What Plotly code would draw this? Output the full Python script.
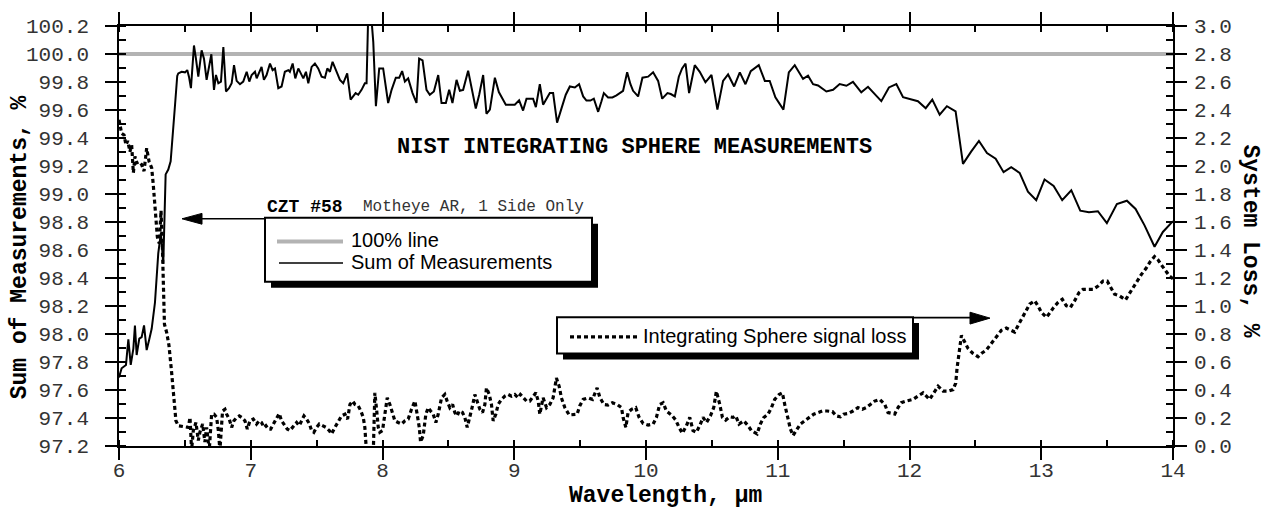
import plotly.graph_objects as go

# ---------------- data ----------------
wavelength_sum = [
    6.000, 6.020, 6.053, 6.071, 6.089, 6.109, 6.121, 6.134, 6.154, 6.172, 6.190, 6.210, 6.228, 6.248,
    6.273, 6.298, 6.318, 6.336, 6.354, 6.374, 6.392, 6.412, 6.425, 6.442,
    6.450, 6.475, 6.501, 6.518, 6.531, 6.546, 6.569, 6.584, 6.602, 6.627, 6.645, 6.665, 6.683, 6.701,
    6.721, 6.736, 6.754, 6.774, 6.792, 6.812, 6.835, 6.855, 6.873, 6.893, 6.918, 6.943, 6.969, 6.989,
    7.007, 7.032, 7.045, 7.065, 7.082, 7.100, 7.120, 7.146, 7.166, 7.184, 7.209, 7.234, 7.259, 7.285,
    7.297, 7.318, 7.338, 7.361, 7.378, 7.399, 7.419, 7.437, 7.462, 7.487, 7.512, 7.538, 7.563, 7.581,
    7.601, 7.621, 7.652, 7.677, 7.702, 7.732, 7.758, 7.778, 7.796, 7.816, 7.841, 7.866, 7.879, 7.892,
    7.912, 7.930, 7.950, 7.975,
    8.005, 8.043, 8.069, 8.101, 8.127, 8.149, 8.170, 8.195, 8.228, 8.258, 8.278, 8.304, 8.334, 8.359,
    8.390, 8.423, 8.448, 8.481, 8.506, 8.531, 8.562, 8.587, 8.612, 8.650, 8.683, 8.708, 8.734, 8.764,
    8.789, 8.815, 8.853, 8.883, 8.911, 8.936, 8.971, 9.004, 9.037, 9.067, 9.093, 9.123, 9.143, 9.164,
    9.194, 9.219, 9.245, 9.270, 9.295, 9.325, 9.358, 9.391, 9.422, 9.460, 9.492, 9.523, 9.548, 9.578,
    9.604, 9.637, 9.662, 9.680, 9.712, 9.745, 9.776, 9.801, 9.826, 9.857, 9.882, 9.902, 9.940, 9.973,
    10.016, 10.054, 10.092, 10.123, 10.163, 10.188, 10.219, 10.249, 10.274, 10.300, 10.327, 10.370,
    10.408, 10.451, 10.497, 10.542, 10.585, 10.623, 10.669, 10.712, 10.755, 10.795, 10.826, 10.856,
    10.902, 10.939, 10.982, 11.015, 11.043, 11.084, 11.129, 11.192, 11.230, 11.268, 11.306, 11.369,
    11.420,
    11.470, 11.521, 11.571, 11.634, 11.685, 11.736, 11.786, 11.844, 11.900, 11.951, 12.001, 12.064,
    12.123, 12.173, 12.229, 12.284, 12.350, 12.406, 12.469, 12.527, 12.588, 12.654, 12.714, 12.772,
    12.836, 12.899, 12.962, 13.025, 13.094, 13.159, 13.228, 13.296, 13.362, 13.430, 13.498, 13.574,
    13.650, 13.716, 13.784, 13.860, 13.923, 13.974, 14.000,
]
sum_measurements = [
    97.69, 97.755, 97.779, 97.962, 97.779, 97.896, 98.061, 97.850, 97.967, 97.978, 98.061, 97.885, 97.955, 98.037,
    98.225, 98.576, 98.72, 98.50, 99.14, 99.175, 99.233, 99.444, 99.632, 99.843,
    99.861, 99.873, 99.869, 99.885, 99.838, 99.756, 100.061, 99.967, 99.838, 100.026, 99.967, 99.815, 99.920, 99.998,
    99.744, 99.850, 99.791, 99.803, 100.049, 99.732, 99.756, 99.791, 99.920, 99.808, 99.784, 99.803, 99.873, 99.803,
    99.850, 99.873, 99.826, 99.873, 99.908, 99.815, 99.850, 99.932, 99.885, 99.897, 99.756, 99.768, 99.873, 99.885,
    99.873, 99.932, 99.826, 99.897, 99.861, 99.826, 99.873, 99.791, 99.908, 99.932, 99.897, 99.838, 99.831, 99.897,
    99.873, 99.944, 99.873, 99.815, 99.791, 99.861, 99.674, 99.697, 99.721, 99.709, 99.744, 99.791, 99.791, 100.30,
    100.30, 100.085, 99.627, 99.897,
    99.897, 99.650, 99.744, 99.831, 99.831, 99.878, 99.803, 99.826, 99.721, 99.650, 99.967, 99.955, 99.744, 99.709,
    99.732, 99.850, 99.650, 99.650, 99.744, 99.650, 99.815, 99.737, 99.744, 99.880, 99.721, 99.610, 99.709, 99.850,
    99.573, 99.603, 99.831, 99.728, 99.681, 99.638, 99.638, 99.638, 99.669, 99.596, 99.681, 99.681, 99.681, 99.620,
    99.784, 99.638, 99.685, 99.721, 99.721, 99.509, 99.610, 99.709, 99.768, 99.761, 99.784, 99.697, 99.667, 99.667,
    99.681, 99.587, 99.662, 99.721, 99.690, 99.690, 99.704, 99.721, 99.737, 99.869, 99.784, 99.737, 99.697, 99.831,
    99.838, 99.869, 99.808, 99.681, 99.721, 99.714, 99.697, 99.838, 99.897, 99.932, 99.721, 99.920,
    99.873, 99.798, 99.850, 99.603, 99.808, 99.854, 99.768, 99.869, 99.784, 99.878, 99.901, 99.920,
    99.808, 99.808, 99.690, 99.638, 99.603, 99.869, 99.920, 99.822, 99.845, 99.784, 99.775, 99.732,
    99.744,
    99.785, 99.773, 99.801, 99.726, 99.766, 99.714, 99.663, 99.761, 99.785, 99.691, 99.679, 99.663,
    99.613, 99.674, 99.566, 99.627, 99.590, 99.215, 99.304, 99.379, 99.292, 99.252, 99.156, 99.191,
    99.151, 99.017, 98.956, 99.104, 99.057, 98.956, 99.027, 98.881, 98.870, 98.877, 98.792, 98.928,
    98.952, 98.893, 98.776, 98.623, 98.729, 98.783, 98.806,
]

wavelength_loss = [
    6.000, 6.020, 6.038, 6.053, 6.066, 6.083, 6.096, 6.109, 6.121, 6.134, 6.154, 6.172, 6.190, 6.210,
    6.228, 6.248, 6.260, 6.273, 6.286, 6.291, 6.306, 6.319, 6.330, 6.336, 6.345, 6.362, 6.379, 6.399,
    6.412, 6.432, 6.450, 6.475, 6.501, 6.526, 6.539, 6.551, 6.564, 6.584, 6.602, 6.614, 6.635, 6.652,
    6.665, 6.685, 6.703, 6.721, 6.741, 6.754, 6.766, 6.786, 6.804, 6.817, 6.837, 6.855, 6.872, 6.893,
    6.913, 6.931, 6.956, 6.974, 6.994, 7.019, 7.044, 7.065, 7.082, 7.100, 7.115, 7.133, 7.151, 7.171,
    7.196, 7.216, 7.234, 7.259, 7.277, 7.297, 7.318, 7.335, 7.348, 7.368, 7.386, 7.404, 7.424, 7.444,
    7.462, 7.479, 7.500, 7.520, 7.545, 7.570, 7.596, 7.613, 7.639, 7.664, 7.689, 7.715, 7.735, 7.753,
    7.773, 7.791, 7.816, 7.836, 7.854, 7.866, 7.879, 7.930, 7.942, 7.955, 7.968, 7.980, 8.000, 8.018,
    8.036, 8.056, 8.069, 8.094, 8.119, 8.145, 8.170, 8.195, 8.220, 8.246, 8.263, 8.279, 8.289, 8.309,
    8.329, 8.347, 8.365, 8.385, 8.405, 8.423, 8.448, 8.473, 8.491, 8.511, 8.532, 8.549, 8.567, 8.582,
    8.607, 8.625, 8.643, 8.663, 8.683, 8.701, 8.719, 8.739, 8.759, 8.777, 8.789, 8.810, 8.827, 8.840,
    8.860, 8.878, 8.903, 8.929, 8.954, 8.979, 9.004, 9.030, 9.047, 9.068, 9.093, 9.118, 9.144, 9.164,
    9.182, 9.194,
    9.219, 9.245, 9.270, 9.295, 9.320, 9.341, 9.358, 9.384, 9.417, 9.447, 9.477, 9.497, 9.523, 9.561,
    9.594, 9.629, 9.649, 9.680, 9.712, 9.745, 9.781, 9.814, 9.826, 9.847, 9.864, 9.890, 9.922, 9.948,
    9.978, 10.016, 10.054, 10.079, 10.104, 10.130, 10.155, 10.193, 10.226, 10.251, 10.276, 10.307,
    10.332, 10.357, 10.383, 10.413, 10.433, 10.459, 10.489, 10.514, 10.534, 10.560, 10.580, 10.605,
    10.636, 10.661, 10.681, 10.706, 10.742, 10.775, 10.800, 10.843, 10.868, 10.894, 10.926, 10.952,
    10.977, 11.010, 11.035, 11.053, 11.078, 11.096, 11.116, 11.146, 11.172, 11.205, 11.243, 11.273,
    11.306, 11.339, 11.374, 11.415, 11.445, 11.475, 11.500, 11.533, 11.571, 11.609, 11.642, 11.672,
    11.703, 11.736,
    11.774, 11.812, 11.837, 11.888, 11.913, 11.938, 11.976, 12.027, 12.065, 12.103, 12.153, 12.179,
    12.217, 12.255, 12.292, 12.330, 12.351, 12.361, 12.376, 12.394, 12.419, 12.444, 12.482, 12.520,
    12.545, 12.583, 12.621, 12.659, 12.697, 12.735, 12.773, 12.798, 12.831, 12.856, 12.882, 12.912,
    12.950, 12.975, 13.001, 13.039, 13.069, 13.094, 13.127, 13.160, 13.190, 13.221, 13.253, 13.286,
    13.317, 13.355, 13.393, 13.431, 13.468, 13.501, 13.532, 13.557, 13.595, 13.640, 13.666, 13.696,
    13.726, 13.759, 13.797, 13.828, 13.860, 13.886, 13.911, 13.944, 13.974, 14.000,
]
signal_loss = [
    2.33, 2.233, 2.221, 2.151, 2.18, 2.103, 2.15, 1.951, 2.068, 2.022, 2.03, 2.010, 1.963, 2.127,
    2.033, 1.987, 1.869, 1.728, 1.611, 1.494, 1.447, 1.681, 1.40, 1.15, 0.87, 0.81, 0.72, 0.53,
    0.39, 0.180, 0.145, 0.140, 0.140, 0.133, 0.204, -0.03, 0.110, 0.168, 0.039, 0.098, 0.157, 0.028,
    0.133, -0.03, 0.227, 0.227, 0.204, 0.110, -0.03, 0.250, 0.262, 0.227, 0.192, 0.133, 0.180, 0.204,
    0.215, 0.204, 0.180, 0.121, 0.180, 0.192, 0.157, 0.180, 0.168, 0.133, 0.145, 0.121, 0.121, 0.157,
    0.204, 0.232, 0.180, 0.145, 0.121, 0.110, 0.133, 0.157, 0.168, 0.145, 0.180, 0.215, 0.192, 0.161,
    0.110, 0.098, 0.133, 0.157, 0.145, 0.133, 0.110, 0.086, 0.133, 0.180, 0.215, 0.227, 0.192, 0.297,
    0.321, 0.297, 0.286, 0.250, 0.204, 0.133, -0.05, -0.05, 0.380, 0.262, 0.133, 0.098, 0.110, 0.227,
    0.344, 0.297, 0.250, 0.180, 0.168, 0.157, 0.180, 0.192, 0.262, 0.321, 0.227, 0.133, 0.028, 0.075,
    0.227, 0.274, 0.250, 0.227, 0.168, 0.227, 0.344, 0.368, 0.321, 0.274, 0.297, 0.239, 0.215, 0.250,
    0.239, 0.204, 0.133, 0.204, 0.286, 0.368, 0.309, 0.262, 0.239, 0.297, 0.415, 0.368, 0.297, 0.180,
    0.227, 0.297, 0.333, 0.356, 0.368, 0.356, 0.368, 0.344, 0.368, 0.344, 0.321, 0.321, 0.356, 0.380,
    0.321, 0.227,
    0.344, 0.274, 0.297, 0.344, 0.485, 0.426, 0.344, 0.274, 0.222, 0.222, 0.227, 0.286, 0.333, 0.344,
    0.333, 0.415, 0.349, 0.297, 0.293, 0.309, 0.297, 0.274, 0.204, 0.133, 0.239, 0.262, 0.274, 0.204,
    0.161, 0.150, 0.157, 0.204, 0.297, 0.309, 0.250, 0.222, 0.185, 0.133, 0.091, 0.145,
    0.204, 0.110, 0.098, 0.157, 0.204, 0.168, 0.215, 0.274, 0.391, 0.297, 0.204, 0.185,
    0.208, 0.204, 0.215, 0.157, 0.180, 0.145, 0.110, 0.086, 0.157, 0.204, 0.227, 0.274,
    0.333, 0.368, 0.380, 0.297, 0.204, 0.121, 0.075, 0.121, 0.157, 0.180, 0.204, 0.227,
    0.239, 0.250, 0.250, 0.246, 0.215, 0.208, 0.227, 0.232, 0.250, 0.274, 0.262, 0.274,
    0.297, 0.321,
    0.333, 0.298, 0.239, 0.228, 0.274, 0.310, 0.321, 0.333, 0.357, 0.380, 0.333, 0.368,
    0.427, 0.392, 0.392, 0.403, 0.450, 0.556, 0.673, 0.790, 0.743, 0.697, 0.661, 0.638,
    0.661, 0.685, 0.732, 0.779, 0.826, 0.842, 0.826, 0.814, 0.873, 0.919, 0.966, 1.013,
    1.037, 1.002, 0.955, 0.919, 0.955, 0.990, 1.025, 1.048, 1.002, 0.990, 1.037, 1.095,
    1.119, 1.119, 1.119, 1.142, 1.177, 1.177, 1.131, 1.084, 1.072, 1.044, 1.084, 1.131,
    1.177, 1.224, 1.271, 1.318, 1.353, 1.330, 1.295, 1.248, 1.213, 1.194,
]

line100_x = [6, 14]
line100_y = [100.0, 100.0]

# ---------------- geometry helpers (pixel -> paper) ----------------
ML, MR, MT, MB = 119, 99, 19, 68
FW, FH = 1272, 514
PW, PH = FW - ML - MR, FH - MT - MB


def px(x):
    return (x - ML) / PW


def py(y):
    return 1 - (y - MT) / PH


MONO = "Liberation Mono, Courier New, monospace"
SANS = "Liberation Sans, Arial, sans-serif"

fig = go.Figure()
fig.add_trace(go.Scatter(x=line100_x, y=line100_y, mode="lines",
                         line=dict(color="#b3b3b3", width=4), name="100% line"))
fig.add_trace(go.Scatter(x=wavelength_sum, y=sum_measurements, mode="lines",
                         line=dict(color="black", width=2), name="Sum of Measurements"))
fig.add_trace(go.Scatter(x=wavelength_loss, y=signal_loss, mode="lines", yaxis="y2",
                         line=dict(color="black", width=3.2, dash="4px,3px"),
                         name="Integrating Sphere signal loss"))

tickfont = dict(family=MONO, size=21, color="#333")
common = dict(showline=True, linecolor="black", linewidth=1.6, showgrid=False, zeroline=False,
              ticks="outside", ticklen=12, tickwidth=1.6, tickcolor="black", tickfont=tickfont)

fig.update_layout(
    width=FW, height=FH,
    margin=dict(l=ML, r=MR, t=MT, b=MB, pad=0),
    paper_bgcolor="white", plot_bgcolor="white",
    showlegend=False,
    xaxis=dict(range=[6, 14], tick0=6, dtick=1, mirror="ticks", ticklabelstandoff=-8,
               minor=dict(ticks="inside", ticklen=6, dtick=0.5, tick0=6, tickcolor="black", tickwidth=1.6),
               **common),
    yaxis=dict(range=[97.2, 100.2], tick0=97.2, dtick=0.2, tickformat=".1f", ticklabelstandoff=12,
               minor=dict(ticks="inside", ticklen=7, dtick=0.1, tick0=97.2, tickcolor="black", tickwidth=1.6),
               **common),
    yaxis2=dict(range=[0, 3.0], tick0=0, dtick=0.2, tickformat=".1f", overlaying="y", side="right",
                ticklabelstandoff=3,
                minor=dict(ticks="inside", ticklen=7, dtick=0.1, tick0=0, tickcolor="black", tickwidth=1.6),
                **common),
)

shapes = []
# legend box 1 (with drop shadow)
shapes.append(dict(type="rect", xref="paper", yref="paper", x0=px(271), x1=px(598), y0=py(285), y1=py(220),
                   fillcolor="black", line=dict(width=0), layer="above"))
shapes.append(dict(type="rect", xref="paper", yref="paper", x0=px(265), x1=px(592), y0=py(279), y1=py(214),
                   fillcolor="white", line=dict(color="black", width=2), layer="above"))
shapes.append(dict(type="line", xref="paper", yref="paper", x0=px(277), x1=px(343), y0=py(238), y1=py(238),
                   line=dict(color="#b3b3b3", width=4), layer="above"))
shapes.append(dict(type="line", xref="paper", yref="paper", x0=px(279), x1=px(343), y0=py(260), y1=py(260),
                   line=dict(color="black", width=1.6), layer="above"))
# arrow 1
shapes.append(dict(type="line", xref="paper", yref="paper", x0=px(200), x1=px(265), y0=py(215), y1=py(215),
                   line=dict(color="black", width=1.6), layer="above"))
shapes.append(dict(type="path", xref="paper", yref="paper",
                   path=f"M {px(182)},{py(215)} L {px(202)},{py(209.5)} L {px(202)},{py(220.5)} Z",
                   fillcolor="black", line=dict(color="black", width=1), layer="above"))
# legend box 2
shapes.append(dict(type="rect", xref="paper", yref="paper", x0=px(563), x1=px(919), y0=py(358), y1=py(321),
                   fillcolor="black", line=dict(width=0), layer="above"))
shapes.append(dict(type="rect", xref="paper", yref="paper", x0=px(557), x1=px(913), y0=py(352), y1=py(315),
                   fillcolor="white", line=dict(color="black", width=2), layer="above"))
shapes.append(dict(type="line", xref="paper", yref="paper", x0=px(570), x1=px(637), y0=py(335), y1=py(335),
                   line=dict(color="black", width=3.2, dash="4px,3px"), layer="above"))
# arrow 2
shapes.append(dict(type="line", xref="paper", yref="paper", x0=px(913), x1=px(972), y0=py(315.5), y1=py(315.5),
                   line=dict(color="black", width=1.6), layer="above"))
shapes.append(dict(type="path", xref="paper", yref="paper",
                   path=f"M {px(990)},{py(316)} L {px(970)},{py(310)} L {px(970)},{py(322)} Z",
                   fillcolor="black", line=dict(color="black", width=1), layer="above"))
fig.update_layout(shapes=shapes)

ann = []


def text(t, x, y, family, size, bold=False, xanchor="left", angle=0, color="black"):
    ann.append(dict(text=f"<b>{t}</b>" if bold else t, xref="paper", yref="paper", x=px(x), y=py(y),
                    xanchor=xanchor, yanchor="middle", showarrow=False, textangle=angle,
                    font=dict(family=family, size=size, color=color)))


text("NIST INTEGRATING SPHERE MEASUREMENTS", 634, 143, MONO, 22, bold=True, xanchor="center")
text("CZT #58", 265, 203, MONO, 18, bold=True)
text("Motheye AR, 1 Side Only", 361, 203.5, MONO, 16, color="#333")
text("100% line", 349, 236.5, SANS, 20)
text("Sum of Measurements", 349, 259, SANS, 20)
text("Integrating Sphere signal loss", 641, 334.5, SANS, 20)
text("Sum of Measurements, %", 20, 244, MONO, 23, bold=True, xanchor="center", angle=-90)
text("System Loss, %", 1250, 237, MONO, 23, bold=True, xanchor="center", angle=90)
text("Wavelength, \u00b5m", 665, 497, MONO, 23, bold=True, xanchor="center")
fig.update_layout(annotations=ann)

fig.write_html("out.html")
